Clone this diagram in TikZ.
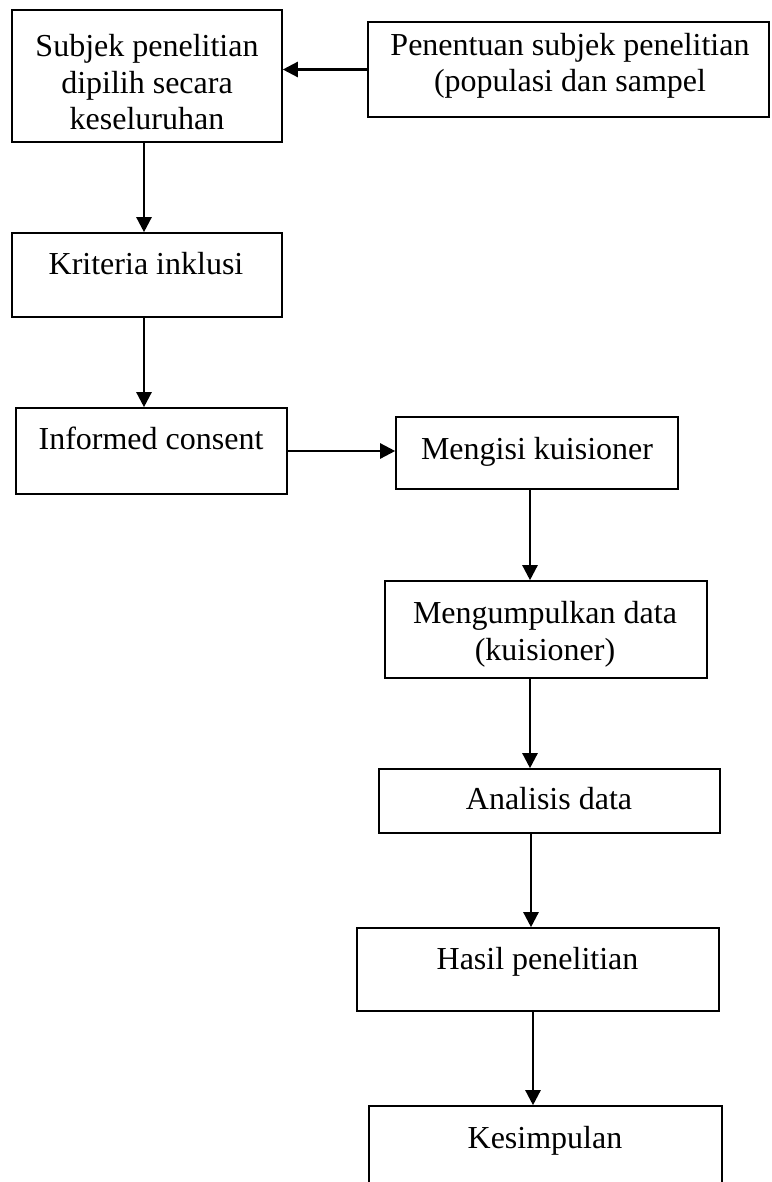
\documentclass[tikz,border=0pt]{standalone}
\usepackage{fontspec}
\setmainfont{Liberation Serif}
\usetikzlibrary{arrows.meta}
\begin{document}
\begin{tikzpicture}[x=1pt,y=-1pt,
  box/.style={draw=black, line width=1.6pt, rectangle, inner sep=0pt, fill=none},
  txt/.style={font=\fontsize{32}{36.5}\selectfont, align=center, inner sep=0pt, anchor=base},
  arr/.style={line width=2.4pt, -{Triangle[length=15pt,width=15pt]}}]
\useasboundingbox (0,0) rectangle (771,1182);
\clip (0,0) rectangle (771,1182);
% boxes
\node[box, minimum width=270pt, minimum height=132pt] (b1) at (147,76) {};
\node[box, minimum width=401pt, minimum height=95pt] (b2) at (568.5,69.5) {};
\node[box, minimum width=270pt, minimum height=84pt] (b3) at (147,275) {};
\node[box, minimum width=271pt, minimum height=86pt] (b4) at (151.5,451) {};
\node[box, minimum width=282pt, minimum height=72pt] (b5) at (537,453) {};
\node[box, minimum width=322pt, minimum height=97pt] (b6) at (546,629.5) {};
\node[box, minimum width=341pt, minimum height=64pt] (b7) at (549.5,801) {};
\node[box, minimum width=362pt, minimum height=83pt] (b8) at (538,969.5) {};
\node[box, minimum width=353pt, minimum height=120pt] (b9) at (545.5,1166) {};
% texts (multi-line nodes are placed by the baseline of their last line)
\node[txt] (t1) at (147,130) {Subjek penelitian\\dipilih secara\\keseluruhan};
\node[txt] (t2) at (570,92) {Penentuan subjek penelitian\\(populasi dan sampel};
\node[txt] (t3) at (146,274) {Kriteria inklusi};
\node[txt] (t4) at (151,449) {Informed consent};
\node[txt] (t5) at (537,459) {Mengisi kuisioner};
\node[txt] (t6) at (545,660) {Mengumpulkan data\\(kuisioner)};
\node[txt] (t7) at (549,809) {Analisis data};
\node[txt] (t8) at (537.5,969) {Hasil penelitian};
\node[txt] (t9) at (545,1148) {Kesimpulan};
% connector columns
\coordinate (cA) at (144,0);
\coordinate (cB) at (530,0);
\coordinate (cC) at (531,0);
\coordinate (cD) at (533,0);
% arrows
\draw[arr] (b2.west) -- (b2.west -| b1.east);
\draw[arr] (b1.south -| cA) -- (b3.north -| cA);
\draw[arr] (b3.south -| cA) -- (b4.north -| cA);
\draw[arr] (b4.east) -- (b4.east -| b5.west);
\draw[arr] (b5.south -| cB) -- (b6.north -| cB);
\draw[arr] (b6.south -| cB) -- (b7.north -| cB);
\draw[arr] (b7.south -| cC) -- (b8.north -| cC);
\draw[arr] (b8.south -| cD) -- (b9.north -| cD);
\end{tikzpicture}
\end{document}
